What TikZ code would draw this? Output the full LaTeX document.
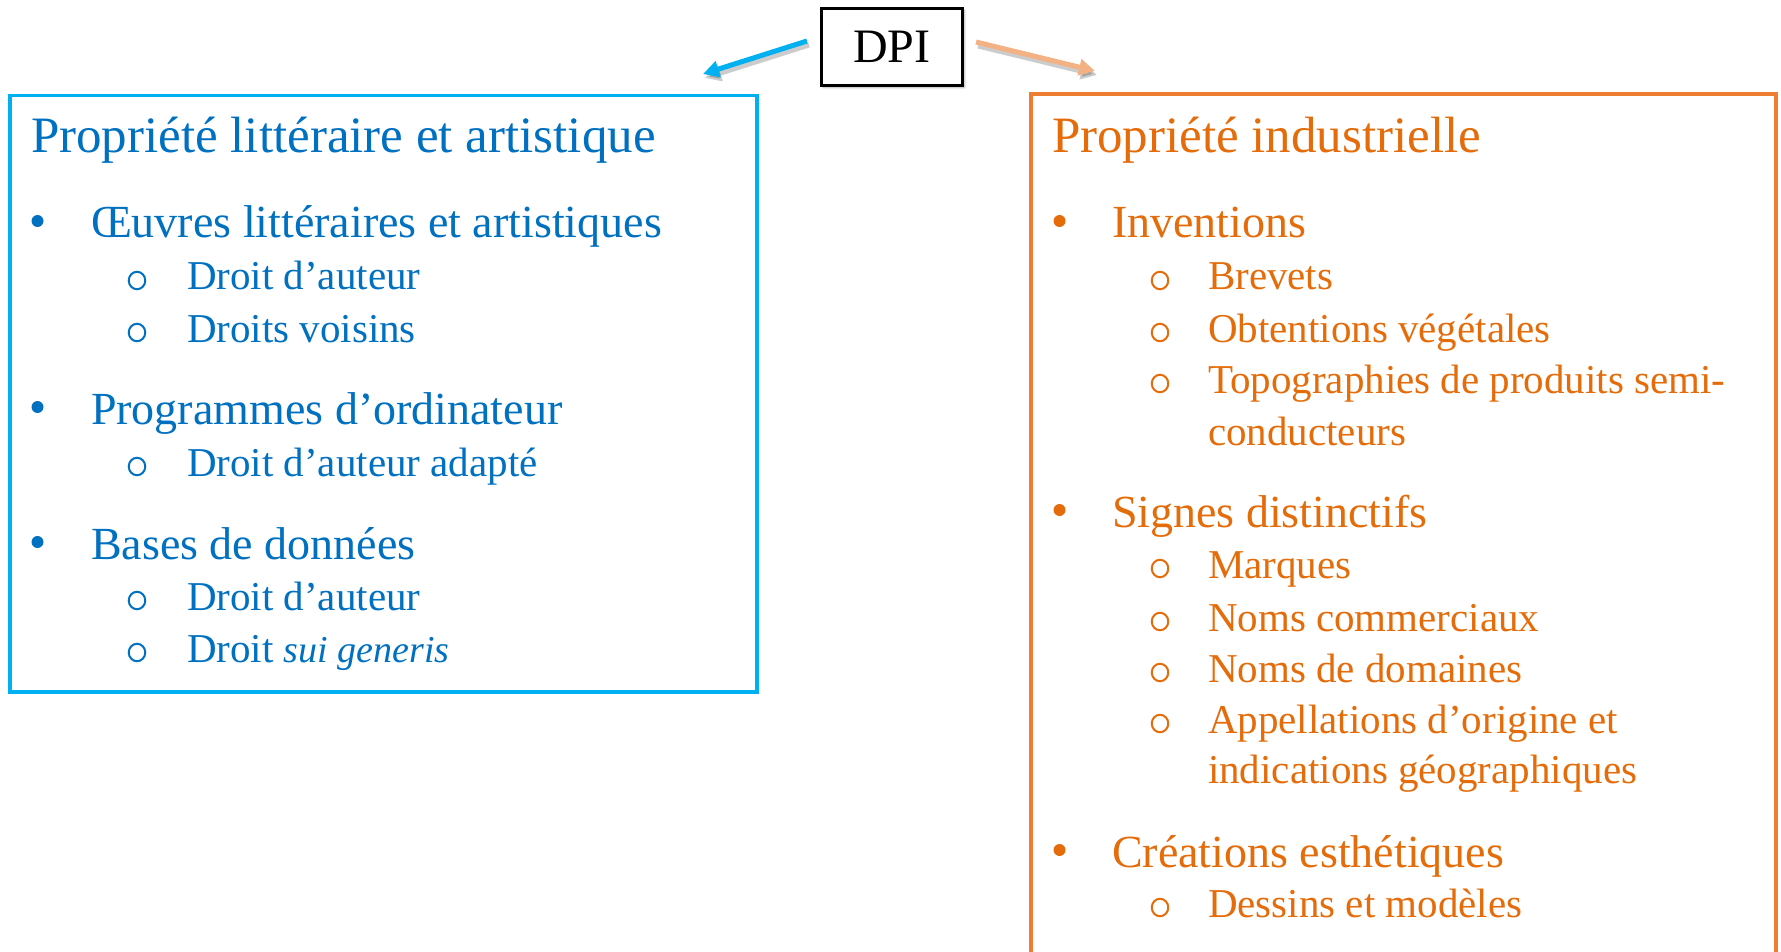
\documentclass[tikz,border=0pt]{standalone}
\usepackage{fontspec}
\setmainfont{Liberation Serif}
\usetikzlibrary{shadows.blur,arrows.meta,shapes.geometric}
\definecolor{ltext}{HTML}{0070C0}
\definecolor{lframe}{HTML}{00B0F0}
\definecolor{otext}{HTML}{E46C0A}
\definecolor{oframe}{HTML}{ED7D31}
\definecolor{oarrow}{HTML}{F4B183}
\begin{document}
\begin{tikzpicture}[x=1pt,y=-1pt,
  txt/.style={anchor=base west,inner sep=0pt,outer sep=0pt},
  ttl/.style={txt,font=\fontsize{51}{61}\selectfont},
  lvone/.style={txt,font=\fontsize{46}{55}\selectfont},
  lvtwo/.style={txt,font=\fontsize{41}{49}\selectfont},
  dotb/.style={circle,inner sep=0pt,minimum size=12pt},
  ringb/.style={ellipse,draw,line width=2pt,inner sep=0pt,minimum width=16.5pt,minimum height=17.5pt},
  conn/.style={line width=5pt,-{Triangle[length=16pt,width=16pt]}},
  connshadow/.style={conn,black,opacity=0.2},
]
\useasboundingbox (0,0) rectangle (1781,952);

% top node
\node[draw,line width=3pt,inner sep=0pt,minimum width=141pt,minimum height=77pt,
      font=\fontsize{48}{58}\selectfont,fill=white,
      blur shadow={shadow xshift=2pt,shadow yshift=-2pt,shadow blur radius=2pt,shadow opacity=35}]
  (dpi) at (892,47) {DPI};

% connectors
\coordinate (ls) at (807,41);
\coordinate (le) at (703,74);
\coordinate (rs) at (976,42);
\coordinate (re) at (1095,71);
\draw[connshadow] ([shift={(2,4)}]ls) -- ([shift={(2,4)}]le);
\draw[connshadow] ([shift={(2,4)}]rs) -- ([shift={(2,4)}]re);
\draw[conn,lframe] (ls) -- (le);
\draw[conn,oarrow] (rs) -- (re);

% left frame
\node[draw=lframe,line width=3.5pt,inner sep=0pt,minimum width=747pt,minimum height=596pt,
      anchor=north west] (lbox) at (8,94) {};
\begin{scope}[every node/.append style={text=ltext},
  dotb/.append style={fill=ltext}, ringb/.append style={draw=ltext}]
\node[ttl] (lt) at (31,153) {Propriété littéraire et artistique};
\node[dotb] (lb1) at (37.5,221) {};
\node[lvone] (l1) at (91,238) {Œuvres littéraires et artistiques};
\node[ringb] (lr11) at (137,280.5) {};
\node[lvtwo] (l11) at (187,290) {Droit d’auteur};
\node[ringb] (lr12) at (137,332.5) {};
\node[lvtwo] (l12) at (187,342) {Droits voisins};
\node[dotb] (lb2) at (37.5,407) {};
\node[lvone] (l2) at (91,424) {Programmes d’ordinateur};
\node[ringb] (lr21) at (137,466.5) {};
\node[lvtwo] (l21) at (187,476) {Droit d’auteur adapté};
\node[dotb] (lb3) at (37.5,542) {};
\node[lvone] (l3) at (91,559) {Bases de données};
\node[ringb] (lr31) at (137,600.5) {};
\node[lvtwo] (l31) at (187,610) {Droit d’auteur};
\node[ringb] (lr32) at (137,652.5) {};
\node[lvtwo] (l32) at (187,662) {Droit {\fontsize{38}{46}\selectfont\itshape sui generis}};
\end{scope}

% right frame (open at the bottom of the page)
\draw[oframe,line width=3.5pt] (1031,952) -- (1031,94) -- (1776,94) -- (1776,952);
\coordinate (rbox) at (1031,94);
\begin{scope}[every node/.append style={text=otext},
  dotb/.append style={fill=otext}, ringb/.append style={draw=otext}]
\node[ttl] (rt) at (1052,153) {Propriété industrielle};
\node[dotb] (rb1) at (1059.5,221) {};
\node[lvone] (r1) at (1112,238) {Inventions};
\node[ringb] (rr11) at (1160,280.5) {};
\node[lvtwo] (r11) at (1208,290) {Brevets};
\node[ringb] (rr12) at (1160,332.5) {};
\node[lvtwo] (r12) at (1208,342) {Obtentions végétales};
\node[ringb] (rr13) at (1160,383.5) {};
\node[lvtwo] (r13) at (1208,393) {Topographies de produits semi-};
\node[lvtwo] (r13b) at (1208,445) {conducteurs};
\node[dotb] (rb2) at (1059.5,510) {};
\node[lvone] (r2) at (1112,527) {Signes distinctifs};
\node[ringb] (rr21) at (1160,568.5) {};
\node[lvtwo] (r21) at (1208,578) {Marques};
\node[ringb] (rr22) at (1160,621.5) {};
\node[lvtwo] (r22) at (1208,631) {Noms commerciaux};
\node[ringb] (rr23) at (1160,672.5) {};
\node[lvtwo] (r23) at (1208,682) {Noms de domaines};
\node[ringb] (rr24) at (1160,723.5) {};
\node[lvtwo] (r24) at (1208,733) {Appellations d’origine et};
\node[lvtwo] (r24b) at (1208,783) {indications géographiques};
\node[dotb] (rb3) at (1059.5,850) {};
\node[lvone] (r3) at (1112,867) {Créations esthétiques};
\node[ringb] (rr31) at (1160,907.5) {};
\node[lvtwo] (r31) at (1208,917) {Dessins et modèles};
\end{scope}
\end{tikzpicture}
\end{document}
